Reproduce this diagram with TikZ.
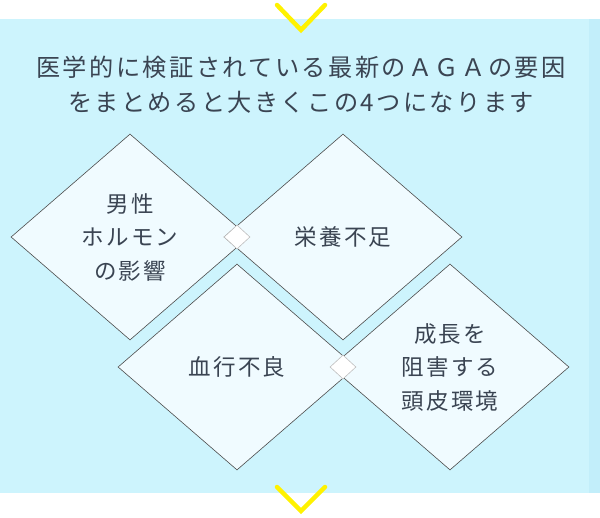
\documentclass[tikz,border=0pt]{standalone}
\usepackage{fontspec}
\newfontfamily\jp[LetterSpace=10]{Noto Sans CJK JP}
\usetikzlibrary{shapes.geometric}
\definecolor{panel}{HTML}{CDF4FD}
\definecolor{strip}{HTML}{C2EEFA}
\definecolor{dfill}{HTML}{F0FBFF}
\definecolor{txt}{HTML}{3A4452}
\definecolor{chev}{HTML}{FFF200}
\tikzset{
 big/.style={shape=diamond,draw=black!70,line width=0.6pt,fill=dfill,minimum width=238pt,minimum height=206pt,inner sep=0pt,text=txt,font=\jp\fontsize{22.5}{33.5}\selectfont,align=center},
 small/.style={shape=diamond,draw=black!25,line width=0.6pt,fill=white,minimum width=26pt,minimum height=24pt,inner sep=0pt},
 chevron/.style={draw=chev,line width=4.5pt,line cap=round,line join=miter}
}
\begin{document}
\begin{tikzpicture}[x=1pt,y=-1pt]
\useasboundingbox (0,0) rectangle (600,517);
\fill[panel] (0,19) rectangle (600,493);
\fill[strip] (589,19) rectangle (600,493);
\node[text=txt,font=\jp\fontsize{24.2}{35}\selectfont,align=center] (title) at (301,85) {医学的に検証されている最新のＡＧＡの要因\\をまとめると大きくこの4つになります};
\node[big] (d1) at (130,237) {男性\\ホルモン\\の影響};
\node[big] (d2) at (343,237) {栄養不足};
\node[big] (d3) at (237,367) {血行不良};
\node[big] (d4) at (450,367) {成長を\\阻害する\\頭皮環境};
\node[small] (s1) at (237,237) {};
\node[small] (s2) at (343,367) {};
\coordinate (c1a) at (277,5); \coordinate (c1b) at (301,30); \coordinate (c1c) at (325,5);
\draw[chevron] (c1a) -- (c1b) -- (c1c);
\coordinate (c2a) at (277,487); \coordinate (c2b) at (301,511); \coordinate (c2c) at (325,487);
\draw[chevron] (c2a) -- (c2b) -- (c2c);
\end{tikzpicture}
\end{document}
